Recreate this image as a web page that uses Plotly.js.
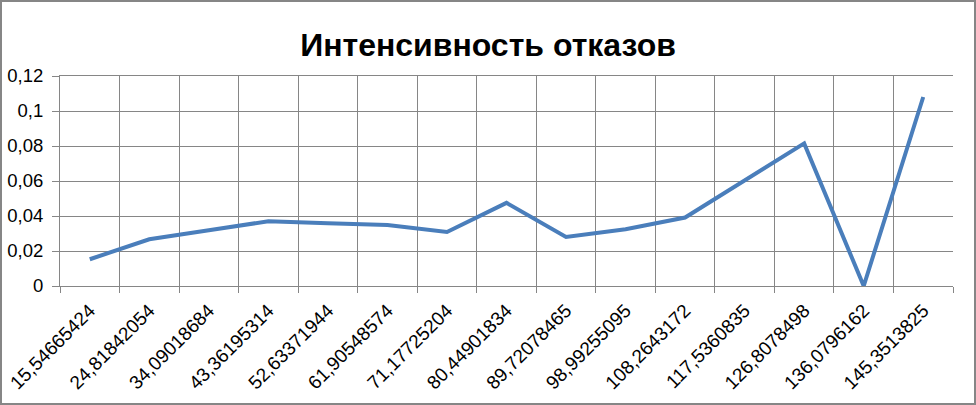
<!DOCTYPE html>
<html><head><meta charset="utf-8">
<script src="https://cdn.plot.ly/plotly-3.0.1.min.js"></script>
<style>body{margin:0;padding:0;background:#fff}#wrap{position:relative;width:976px;height:405px}#frame{position:absolute;left:0;top:0;width:976px;height:405px;box-sizing:border-box;border:2px solid #868686;pointer-events:none}</style>
</head><body>
<div id="wrap"><div id="chart" style="width:976px;height:405px"></div><div id="frame"></div></div>
<script>
const categories = ["15,54665424","24,81842054","34,09018684","43,36195314","52,63371944","61,90548574","71,17725204","80,44901834","89,72078465","98,99255095","108,2643172","117,5360835","126,8078498","136,0796162","145,3513825"];
const intensity = [0.0153,0.0267,0.0319,0.037,0.0358,0.0349,0.0309,0.0475,0.028,0.0324,0.0391,0.0603,0.0815,0,0.108];
const titleText = "Интенсивность отказов";

const font = "Liberation Sans, Arial, sans-serif";
Plotly.newPlot('chart', [{
  x: categories, y: intensity, type: 'scatter', mode: 'lines',
  line: {color: '#4a7ebb', width: 4}, hoverinfo: 'none'
}], {
  width: 976, height: 405,
  margin: {l: 60, r: 23, t: 76, b: 119},
  separators: ', ',
  paper_bgcolor: '#fff', plot_bgcolor: '#fff',
  showlegend: false,
  title: {text: '<b>' + titleText + '</b>', x: 0.5, xref: 'container', xanchor: 'center', y: 0.89, yref: 'container', yanchor: 'middle', font: {family: font, size: 32, color: '#000'}},
  xaxis: {type: 'category', tickson: 'boundaries', tickangle: -45, ticks: 'outside', ticklen: 6, tickcolor: '#868686',
    showgrid: true, gridcolor: '#868686', gridwidth: 1, showline: true, linecolor: '#868686', linewidth: 1, mirror: true,
    ticklabelstandoff: 5,
    tickfont: {family: font, size: 19, color: '#000'}, range: [-0.5, 14.5], fixedrange: true},
  yaxis: {range: [0, 0.12], dtick: 0.02, tick0: 0, ticks: 'outside', ticklen: 7, tickcolor: '#868686',
    showgrid: true, gridcolor: '#868686', gridwidth: 1, showline: true, linecolor: '#868686', linewidth: 1,
    ticklabelstandoff: 5,
    zeroline: false, tickfont: {family: font, size: 18.5, color: '#000'}, fixedrange: true}
}, {staticPlot: true});
</script>
</body></html>
